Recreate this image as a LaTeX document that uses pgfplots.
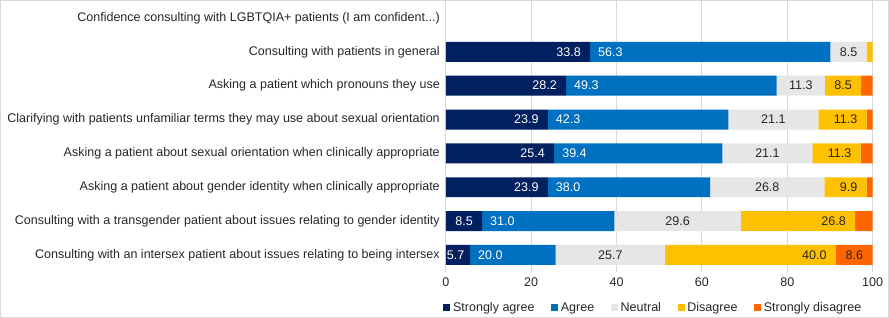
\documentclass[border=0pt]{standalone}
\usepackage{pgfplots}
\pgfplotsset{compat=1.18}
\usepackage{pgfplotstable}
\usepackage{fontspec}
\setmainfont{Liberation Sans}
\definecolor{csa}{HTML}{002060}
\definecolor{ca}{HTML}{0070C0}
\definecolor{cn}{HTML}{E7E6E6}
\definecolor{cd}{HTML}{FFC000}
\definecolor{csd}{HTML}{FF6600}
\definecolor{gridc}{HTML}{D9D9D9}
\definecolor{txt}{HTML}{262626}

% sa = strongly agree, a = agree, n = neutral, d = disagree, sd = strongly disagree
\pgfplotstableread{
y sa a n d sd lsa la ln ld lsd
1 33.8 56.3 8.5 1.4 0 33.8 56.3 8.5 {} {}
2 28.2 49.3 11.3 8.5 2.7 28.2 49.3 11.3 8.5 {}
3 23.9 42.3 21.1 11.3 1.4 23.9 42.3 21.1 11.3 {}
4 25.4 39.4 21.1 11.3 2.8 25.4 39.4 21.1 11.3 {}
5 23.9 38.0 26.8 9.9 1.4 23.9 38.0 26.8 9.9 {}
6 8.5 31.0 29.6 26.8 4.1 8.5 31.0 29.6 26.8 {}
7 5.7 20.0 25.7 40.0 8.6 {} 20.0 25.7 40.0 8.6
}\datatable

% narrow bar whose label is set from the bar's start
\pgfplotstableread{
y x l
7 0 5.7
}\narrowlab

\newcommand{\threedots}{...}
\newcommand{\fs}{\fontsize{9.4}{11.3}\selectfont}

\pgfplotsset{
  common/.style={
    at={(0,0)}, anchor=south west,
    scale only axis,
    width=320.25pt, height=203.25pt,
    xmin=0, xmax=100,
    ymin=-0.5, ymax=7.5,
    y dir=reverse,
  },
}

\begin{document}
\begin{tikzpicture}
\begin{axis}[
  common,
  xbar stacked,
  bar width=15pt,
  axis line style={draw=none},
  xtick={0,20,40,60,80,100},
  ytick={0,1,2,3,4,5,6,7},
  yticklabels={
    {Confidence consulting with LGBTQIA+ patients (I am confident\threedots)},
    {Consulting with patients in general},
    {Asking a patient which pronouns they use},
    {Clarifying with patients unfamiliar terms they may use about sexual orientation},
    {Asking a patient about sexual orientation when clinically appropriate},
    {Asking a patient about gender identity when clinically appropriate},
    {Consulting with a transgender patient about issues relating to gender identity},
    {Consulting with an intersex patient about issues relating to being intersex}},
  major tick length=0pt,
  xmajorgrids,
  grid style={gridc, line width=0.75pt},
  /pgf/number format/assume math mode=true,
  tick label style={font=\fs, text=txt},
  yticklabel style={xshift=-1pt},
  xticklabel style={yshift=-1pt},
  legend columns=5,
  legend style={draw=none, fill=none, font=\fs, text=txt,
    at={(axis description cs:0.487,0)}, anchor=center, yshift=-27pt,
    /tikz/every even column/.append style={column sep=10.5pt},
    inner sep=0pt},
  legend image code/.code={\fill[#1] (0pt,-2.625pt) rectangle (5.25pt,2.625pt);},
]
\addplot[fill=csa, draw=none] table[x=sa, y=y] {\datatable};
\addplot[fill=ca, draw=none] table[x=a, y=y] {\datatable};
\addplot[fill=cn, draw=none] table[x=n, y=y] {\datatable};
\addplot[fill=cd, draw=none] table[x=d, y=y] {\datatable};
\addplot[fill=csd, draw=none] table[x=sd, y=y] {\datatable};
\legend{Strongly agree, Agree, Neutral, Disagree, Strongly disagree}
\end{axis}
\begin{axis}[
  common,
  hide axis,
  nodes near coords,
  point meta=explicit symbolic,
]
\addplot[draw=none, mark=none,
  every node near coord/.style={anchor=east, xshift=-3.5pt, text=white, font=\fs}]
  table[x expr=\thisrow{sa}, y=y, meta=lsa] {\datatable};
\addplot[draw=none, mark=none,
  every node near coord/.style={anchor=west, inner xsep=0pt, xshift=0.6pt, text=white, font=\fs}]
  table[x=x, y=y, meta=l] {\narrowlab};
\addplot[draw=none, mark=none,
  every node near coord/.style={anchor=west, xshift=2.5pt, text=white, font=\fs}]
  table[x expr=\thisrow{sa}, y=y, meta=la] {\datatable};
\addplot[draw=none, mark=none,
  every node near coord/.style={anchor=center, text=txt, font=\fs}]
  table[x expr=\thisrow{sa}+\thisrow{a}+\thisrow{n}/2, y=y, meta=ln] {\datatable};
\addplot[draw=none, mark=none,
  every node near coord/.style={anchor=east, xshift=-3.5pt, text=txt, font=\fs}]
  table[x expr=\thisrow{sa}+\thisrow{a}+\thisrow{n}+\thisrow{d}, y=y, meta=ld] {\datatable};
\addplot[draw=none, mark=none,
  every node near coord/.style={anchor=center, text=txt, font=\fs}]
  table[x expr=\thisrow{sa}+\thisrow{a}+\thisrow{n}+\thisrow{d}+\thisrow{sd}/2, y=y, meta=lsd] {\datatable};
\end{axis}
\pgfresetboundingbox
\path[use as bounding box] (-334.5pt,-34.5pt) rectangle (332.5pt,204pt);
\draw[gridc, line width=0.75pt] (-334.125pt,-34.125pt) rectangle (332.125pt,203.625pt);
\end{tikzpicture}
\end{document}
